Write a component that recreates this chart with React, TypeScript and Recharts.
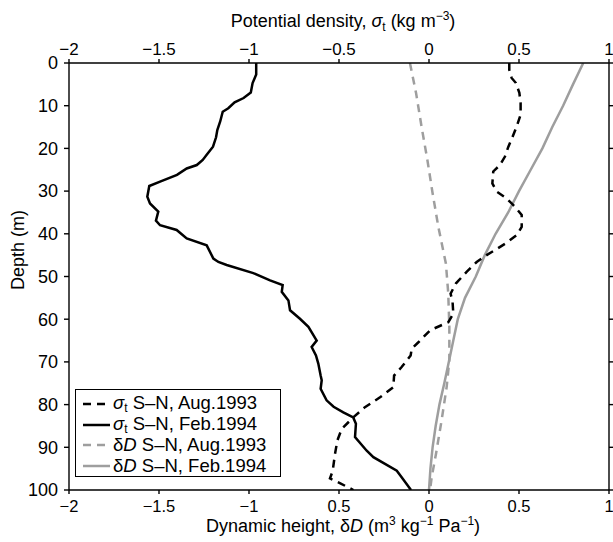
import React from "react";
import { LineChart, Line, XAxis, YAxis, Legend, Label } from "recharts";

const FONT = "'Liberation Sans', Arial, Helvetica, sans-serif";
const GRAY = "#9e9e9e";

// axis ticks
const depthTicks = [0, 10, 20, 30, 40, 50, 60, 70, 80, 90, 100];
const densityTicks = [-2, -1.5, -1, -0.5, 0, 0.5, 1];
const topTickLabels = ["\u22122", "\u22121.5", "\u22121", "\u22120.5", "0", "0.5", "1"];
// the original bottom axis prints "0.5" at -0.5, kept as is
const bottomTickLabels = ["\u22122", "\u22121.5", "\u22121", "0.5", "0", "0.5", "1"];

// sigma-t S-N, Aug.1993 (top axis)
const sigmaAugDepth = [0, 1.6, 3.5, 4.7, 7, 9.4, 12.1, 14.9, 17.2, 19.6, 21.9, 23.9, 25.4, 28.2, 30.1, 31.7, 33.7, 35.6, 38.4, 40.3, 42.1, 43.8, 45, 46.6, 48.9, 51.6, 54, 56, 58.7, 60.7, 62.6, 65.4, 66.9, 68.5, 71.2, 73.2, 75.9, 78.3, 80.6, 83, 85.7, 88.4, 91.5, 95.5, 97.3, 98.5, 100];
const sigmaAugValue = [0.446, 0.446, 0.459, 0.483, 0.502, 0.509, 0.509, 0.487, 0.465, 0.441, 0.422, 0.394, 0.357, 0.352, 0.376, 0.431, 0.478, 0.515, 0.515, 0.487, 0.431, 0.367, 0.32, 0.265, 0.209, 0.15, 0.12, 0.131, 0.135, 0.107, 0.006, -0.059, -0.096, -0.102, -0.152, -0.194, -0.198, -0.272, -0.356, -0.421, -0.485, -0.509, -0.522, -0.535, -0.55, -0.49, -0.42];

// sigma-t S-N, Feb.1994 (top axis)
const sigmaFebDepth = [0, 2.7, 4.7, 6.9, 8.2, 9.2, 10.6, 11.4, 13.7, 15.7, 17.4, 19.6, 21.5, 22.7, 23.9, 24.7, 26.2, 27.8, 28.8, 31.3, 32.9, 34.8, 36.9, 38, 39.1, 41.1, 42.7, 45.8, 46.6, 47.3, 49.2, 50.9, 52, 53.6, 55.6, 57.9, 59.9, 61.8, 65, 66.5, 68.5, 70.4, 73.2, 74.3, 76.3, 79, 80.5, 81.8, 83, 84.5, 87.6, 90.8, 92.3, 95.5, 97, 100];
const sigmaFebValue = [-0.96, -0.96, -0.98, -0.99, -1.03, -1.08, -1.115, -1.146, -1.16, -1.176, -1.183, -1.2, -1.235, -1.257, -1.29, -1.346, -1.4, -1.494, -1.554, -1.565, -1.55, -1.504, -1.517, -1.494, -1.402, -1.346, -1.235, -1.198, -1.17, -1.124, -0.976, -0.883, -0.813, -0.818, -0.781, -0.772, -0.717, -0.67, -0.624, -0.652, -0.628, -0.615, -0.602, -0.596, -0.602, -0.569, -0.53, -0.476, -0.421, -0.406, -0.411, -0.346, -0.309, -0.179, -0.152, -0.1];

// dynamic height S-N, Aug.1993 (bottom axis)
const dynAugDepth = [0, 7, 15, 22.7, 30.5, 38.4, 47, 54, 61.8, 69.6, 75.9, 83.7, 91.5, 97, 100];
const dynAugValue = [-0.106, -0.072, -0.041, -0.009, 0.02, 0.052, 0.094, 0.107, 0.113, 0.113, 0.098, 0.07, 0.039, 0.015, 0.006];

// dynamic height S-N, Feb.1994 (bottom axis)
const dynFebDepth = [0, 5, 10, 15, 20, 25, 30, 35, 40, 45, 50, 55, 60, 65, 70, 75, 80, 85, 90, 95, 100];
const dynFebValue = [0.857, 0.8, 0.745, 0.685, 0.63, 0.565, 0.5, 0.44, 0.37, 0.31, 0.26, 0.2, 0.16, 0.135, 0.11, 0.085, 0.058, 0.037, 0.02, 0.008, 0];

const legendItems = [
  { symbol: "sigma", label: " S\u2013N, Aug.1993", color: "#000", dash: "8 6" },
  { symbol: "sigma", label: " S\u2013N, Feb.1994", color: "#000", dash: undefined },
  { symbol: "delta", label: " S\u2013N, Aug.1993", color: GRAY, dash: "8 6" },
  { symbol: "delta", label: " S\u2013N, Feb.1994", color: GRAY, dash: undefined },
];

const toRows = (depths: number[], values: number[]) =>
  depths.map((d, i) => ({ depth: d, value: values[i] }));

const sigmaAug = toRows(sigmaAugDepth, sigmaAugValue);
const sigmaFeb = toRows(sigmaFebDepth, sigmaFebValue);
const dynAug = toRows(dynAugDepth, dynAugValue);
const dynFeb = toRows(dynFebDepth, dynFebValue);

const tickLabel = (labels: string[]) => (v: number) => {
  const i = densityTicks.indexOf(v);
  return i >= 0 ? labels[i] : String(v);
};

const TopTitle = () => (
  <text x={343} y={27} textAnchor="middle" fontFamily={FONT} fontSize={18} fill="#000">
    Potential density, <tspan fontStyle="italic">σ</tspan>
    <tspan fontSize={12} dy={4}>t</tspan>
    <tspan dy={-4}> (kg m</tspan>
    <tspan fontSize={12} dy={-7}>{"\u22123"}</tspan>
    <tspan dy={7}>)</tspan>
  </text>
);

const BottomTitle = () => (
  <text x={343} y={532} textAnchor="middle" fontFamily={FONT} fontSize={18} fill="#000">
    Dynamic height, δ<tspan fontStyle="italic">D</tspan>
    <tspan> (m</tspan>
    <tspan fontSize={12} dy={-7}>3</tspan>
    <tspan dy={7}> kg</tspan>
    <tspan fontSize={12} dy={-7}>{"\u22121"}</tspan>
    <tspan dy={7}> Pa</tspan>
    <tspan fontSize={12} dy={-7}>{"\u22121"}</tspan>
    <tspan dy={7}>)</tspan>
  </text>
);

const DepthTitle = () => (
  <text
    x={24}
    y={250}
    transform="rotate(-90, 24, 250)"
    textAnchor="middle"
    fontFamily={FONT}
    fontSize={18}
    fill="#000"
  >
    Depth (m)
  </text>
);

const renderLegend = () => (
  <div
    style={{
      boxSizing: "border-box",
      width: 206,
      height: 88,
      border: "1.2px solid #000",
      background: "#fff",
      paddingTop: 3.5,
      fontFamily: FONT,
      fontSize: 18.5,
      lineHeight: 1,
      color: "#000",
    }}
  >
    {legendItems.map((item, i) => (
      <div key={i} style={{ display: "flex", alignItems: "center", height: 20.7, whiteSpace: "nowrap" }}>
        <svg width={27} height={4} style={{ marginLeft: 7, marginRight: 3 }}>
          <line x1={0} y1={2} x2={27} y2={2} stroke={item.color} strokeWidth={2.5} strokeDasharray={item.dash} />
        </svg>
        <span style={{ lineHeight: 1 }}>
          {item.symbol === "sigma" ? (
            <>
              <i>σ</i>
              <span style={{ fontSize: 12, lineHeight: 1, verticalAlign: "-3px" }}>t</span>
            </>
          ) : (
            <>
              δ<i>D</i>
            </>
          )}
          {item.label}
        </span>
      </div>
    ))}
  </div>
);

const axisLine = { stroke: "#000", strokeWidth: 1.4 };
const tickFont = { fill: "#000", fontSize: 17, fontFamily: FONT };

export default function App() {
  return (
    <div style={{ position: "absolute", left: 0, top: 0, background: "#fff" }}>
      <LineChart
        width={613}
        height={542}
        layout="vertical"
        margin={{ top: 0, right: 0, bottom: 0, left: 0 }}
      >
        <XAxis
          xAxisId="top"
          orientation="top"
          type="number"
          domain={[-2, 1]}
          ticks={densityTicks}
          interval={0}
          allowDataOverflow
          height={63}
          axisLine={axisLine}
          tickLine={axisLine}
          tickSize={4}
          tickMargin={4}
          tick={tickFont}
          tickFormatter={tickLabel(topTickLabels)}
        >
          <Label content={() => <TopTitle />} />
        </XAxis>
        <XAxis
          xAxisId="bottom"
          orientation="bottom"
          type="number"
          domain={[-2, 1]}
          ticks={densityTicks}
          interval={0}
          allowDataOverflow
          height={52}
          axisLine={axisLine}
          tickLine={axisLine}
          tickSize={4}
          tickMargin={6}
          tick={{ ...tickFont, fontSize: 16.5 }}
          tickFormatter={tickLabel(bottomTickLabels)}
        >
          <Label content={() => <BottomTitle />} />
        </XAxis>
        <YAxis
          yAxisId="left"
          orientation="left"
          type="number"
          dataKey="depth"
          domain={[0, 100]}
          ticks={depthTicks}
          interval={0}
          allowDataOverflow
          width={69}
          axisLine={axisLine}
          tickLine={axisLine}
          tickSize={5}
          tickMargin={6}
          tick={{ ...tickFont, fontSize: 18 }}
        >
          <Label content={() => <DepthTitle />} />
        </YAxis>
        <YAxis
          yAxisId="right"
          orientation="right"
          type="number"
          dataKey="depth"
          domain={[0, 100]}
          ticks={depthTicks}
          interval={0}
          allowDataOverflow
          width={4}
          axisLine={axisLine}
          tickLine={axisLine}
          tickSize={4}
          tickFormatter={() => ""}
        />
        <Line
          data={dynAug}
          dataKey="value"
          xAxisId="bottom"
          yAxisId="left"
          type="linear"
          stroke={GRAY}
          strokeWidth={2.5}
          strokeDasharray="8 6"
          dot={false}
          isAnimationActive={false}
        />
        <Line
          data={dynFeb}
          dataKey="value"
          xAxisId="bottom"
          yAxisId="left"
          type="linear"
          stroke={GRAY}
          strokeWidth={2.5}
          dot={false}
          isAnimationActive={false}
        />
        <Line
          data={sigmaAug}
          dataKey="value"
          xAxisId="top"
          yAxisId="left"
          type="linear"
          stroke="#000"
          strokeWidth={2.5}
          strokeDasharray="8 6"
          dot={false}
          isAnimationActive={false}
        />
        <Line
          data={sigmaFeb}
          dataKey="value"
          xAxisId="top"
          yAxisId="left"
          type="linear"
          stroke="#000"
          strokeWidth={2.5}
          dot={false}
          isAnimationActive={false}
        />
        <Legend
          layout="vertical"
          align="center"
          verticalAlign="middle"
          content={renderLegend}
          wrapperStyle={{ left: 75, top: 389, width: 206, height: 88 }}
        />
      </LineChart>
    </div>
  );
}
